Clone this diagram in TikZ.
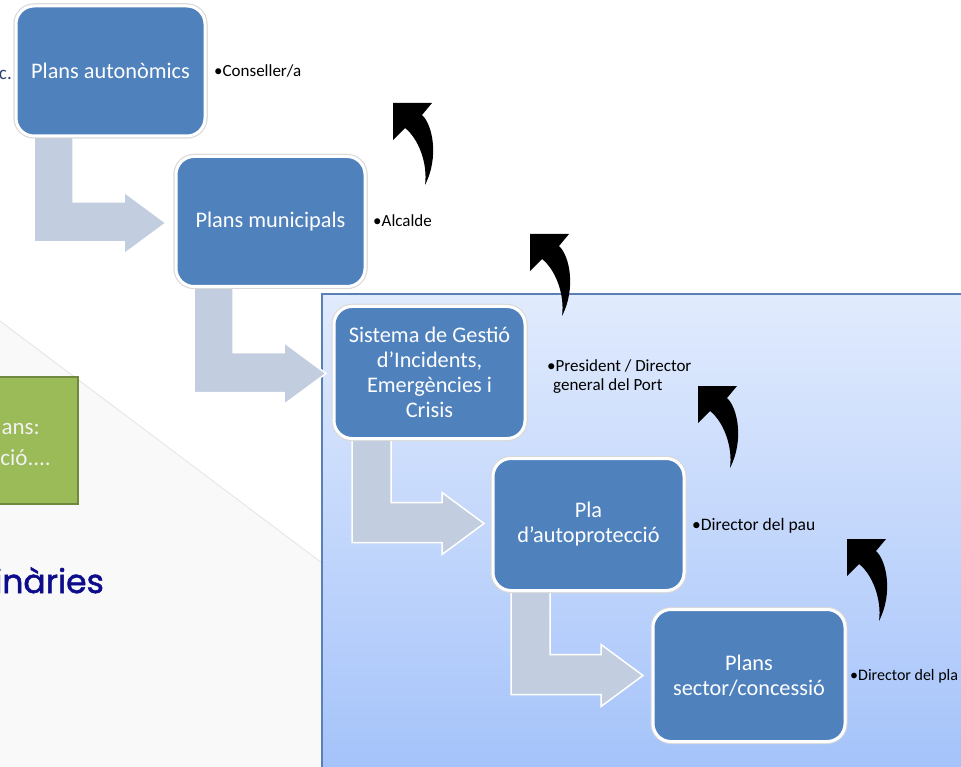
\documentclass[tikz,border=0pt]{standalone}
\usepackage{fontspec}
\setmainfont{Carlito}
\newfontfamily\geofont[FakeBold=1.6]{Poppins}
\usetikzlibrary{calc}
\definecolor{boxblue}{HTML}{4F81BD}
\definecolor{arrowgray}{HTML}{C3CDE0}
\definecolor{paneltop}{HTML}{E1EBFD}
\definecolor{panelbot}{HTML}{A5C3FA}
\definecolor{panelline}{HTML}{5A80B4}
\definecolor{lightbg}{HTML}{F9F9F9}
\definecolor{diagline}{HTML}{E4E4E4}
\definecolor{greenfill}{HTML}{9BBB59}
\definecolor{greenline}{HTML}{71893F}
\definecolor{navytext}{HTML}{0C0C8C}
\definecolor{darkblue}{HTML}{2A4472}
\tikzset{
  planbox/.style={rounded corners=18pt, fill=boxblue, draw=white, line width=3pt,
    minimum width=189pt, minimum height=130pt, text=white, align=center,
    font=\fontsize{22.3}{25}\selectfont, inner sep=2pt,
    preaction={draw=black!15, line width=5pt}},
  bentarrow/.style={fill=arrowgray, draw=white, line width=1.5pt, line join=miter},
  lbl/.style={anchor=base west, inner sep=0pt, font=\fontsize{17}{19}\selectfont, text=black, align=left},
  partial/.style={anchor=base east, inner sep=0pt, font=\fontsize{23}{26}\selectfont},
}
\newcommand\bentfrom[1]{%
  \draw[bentarrow, shift={($(#1.north west)+(-1.5,-1.5)$)}]
    (21,125) -- (21,239) -- (111,239) -- (111,251) -- (153,220) -- (111,189)
    -- (111,199) -- (60,199) -- (60,125) -- cycle;}
\newcommand\upcurve[2]{%
  \fill[black, shift={(#1,#2)}] (0,0) -- (39,0) -- (29,12)
    .. controls (40,22) and (46,55) .. (32,82)
    .. controls (35,60) and (25,35) .. (12,25) -- (0,37) -- cycle;}
\begin{document}
\begin{tikzpicture}[x=1pt,y=-1pt]
\fill[white] (0,0) rectangle (961,767);
\useasboundingbox (0,0) rectangle (961,767);
% light background wedge
\fill[lightbg] (0,321) -- (322,563) -- (322,767) -- (0,767) -- cycle;
\draw[diagline, line width=0.8pt] (0,321) -- (322,563);
% green box (partly cut off)
\node[fill=greenfill, draw=greenline, line width=2pt, minimum width=98pt, minimum height=127pt, inner sep=0pt] (green) at (29,440.5) {};
\node[partial, text=white!95!black] (g1) at (40,434) {ans:};
\node[partial, text=white!95!black] (g2) at (51,465) {ció....};
% partial texts
\node[partial, font=\fontsize{19}{22}\selectfont, text=darkblue] (cpart) at (12,80) {c.};
\node[anchor=base west, inner sep=0pt, font=\geofont\fontsize{33}{36}\selectfont, text=navytext] (ord) at (-6,593) {inàries};
% panel
\fill[top color=paneltop, bottom color=panelbot] (322,294) rectangle (961,767);
\draw[panelline, line width=2pt] (322,767) -- (322,294) -- (961,294);
% boxes (positions)
\coordinate (p1) at (110.5,71);
\coordinate (p2) at (270.5,221.5);
\coordinate (p3) at (429.5,372.5);
\coordinate (p4) at (588.5,524.5);
\coordinate (p5) at (749,675.5);
% invisible placement to get anchors for arrows
\path (p1) node[planbox, draw=none, fill=none, preaction={}] (b1x) {};
\path (p2) node[planbox, draw=none, fill=none, preaction={}] (b2x) {};
\path (p3) node[planbox, draw=none, fill=none, preaction={}, minimum width=191pt, minimum height=132pt] (b3x) {};
\path (p4) node[planbox, draw=none, fill=none, preaction={}, minimum width=191pt, minimum height=132pt] (b4x) {};
\bentfrom{b1x}
\bentfrom{b2x}
\bentfrom{b3x}
\bentfrom{b4x}
% boxes
\node[planbox] (b1) at (p1) {Plans autonòmics};
\node[planbox] (b2) at (p2) {Plans municipals};
\node[planbox, minimum width=191pt, minimum height=132pt] (b3) at (p3) {Sistema de Gestió\\d’Incidents,\\Emergències i\\Crisis};
\node[planbox, minimum width=191pt, minimum height=132pt] (b4) at (p4) {Pla\\d’autoprotecció};
\node[planbox, minimum width=192pt, minimum height=132pt] (b5) at (p5) {Plans\\sector/concessió};
% labels
\node[lbl] (l1) at (214,77) {•Conseller/a};
\node[lbl] (l2) at (373,227) {•Alcalde};
\node[lbl] (l3) at (547,390) {•President / Director\\\hspace*{6pt}general del Port};
\node[lbl, font=\fontsize{17.5}{19}\selectfont] (l4) at (692,530) {•Director del pau};
\node[lbl, font=\fontsize{16}{19}\selectfont] (l5) at (850,680) {•Director del pla};
% curved arrows
\upcurve{393}{103}
\upcurve{530}{234}
\upcurve{698}{386}
\upcurve{847}{539}
\end{tikzpicture}
\end{document}
